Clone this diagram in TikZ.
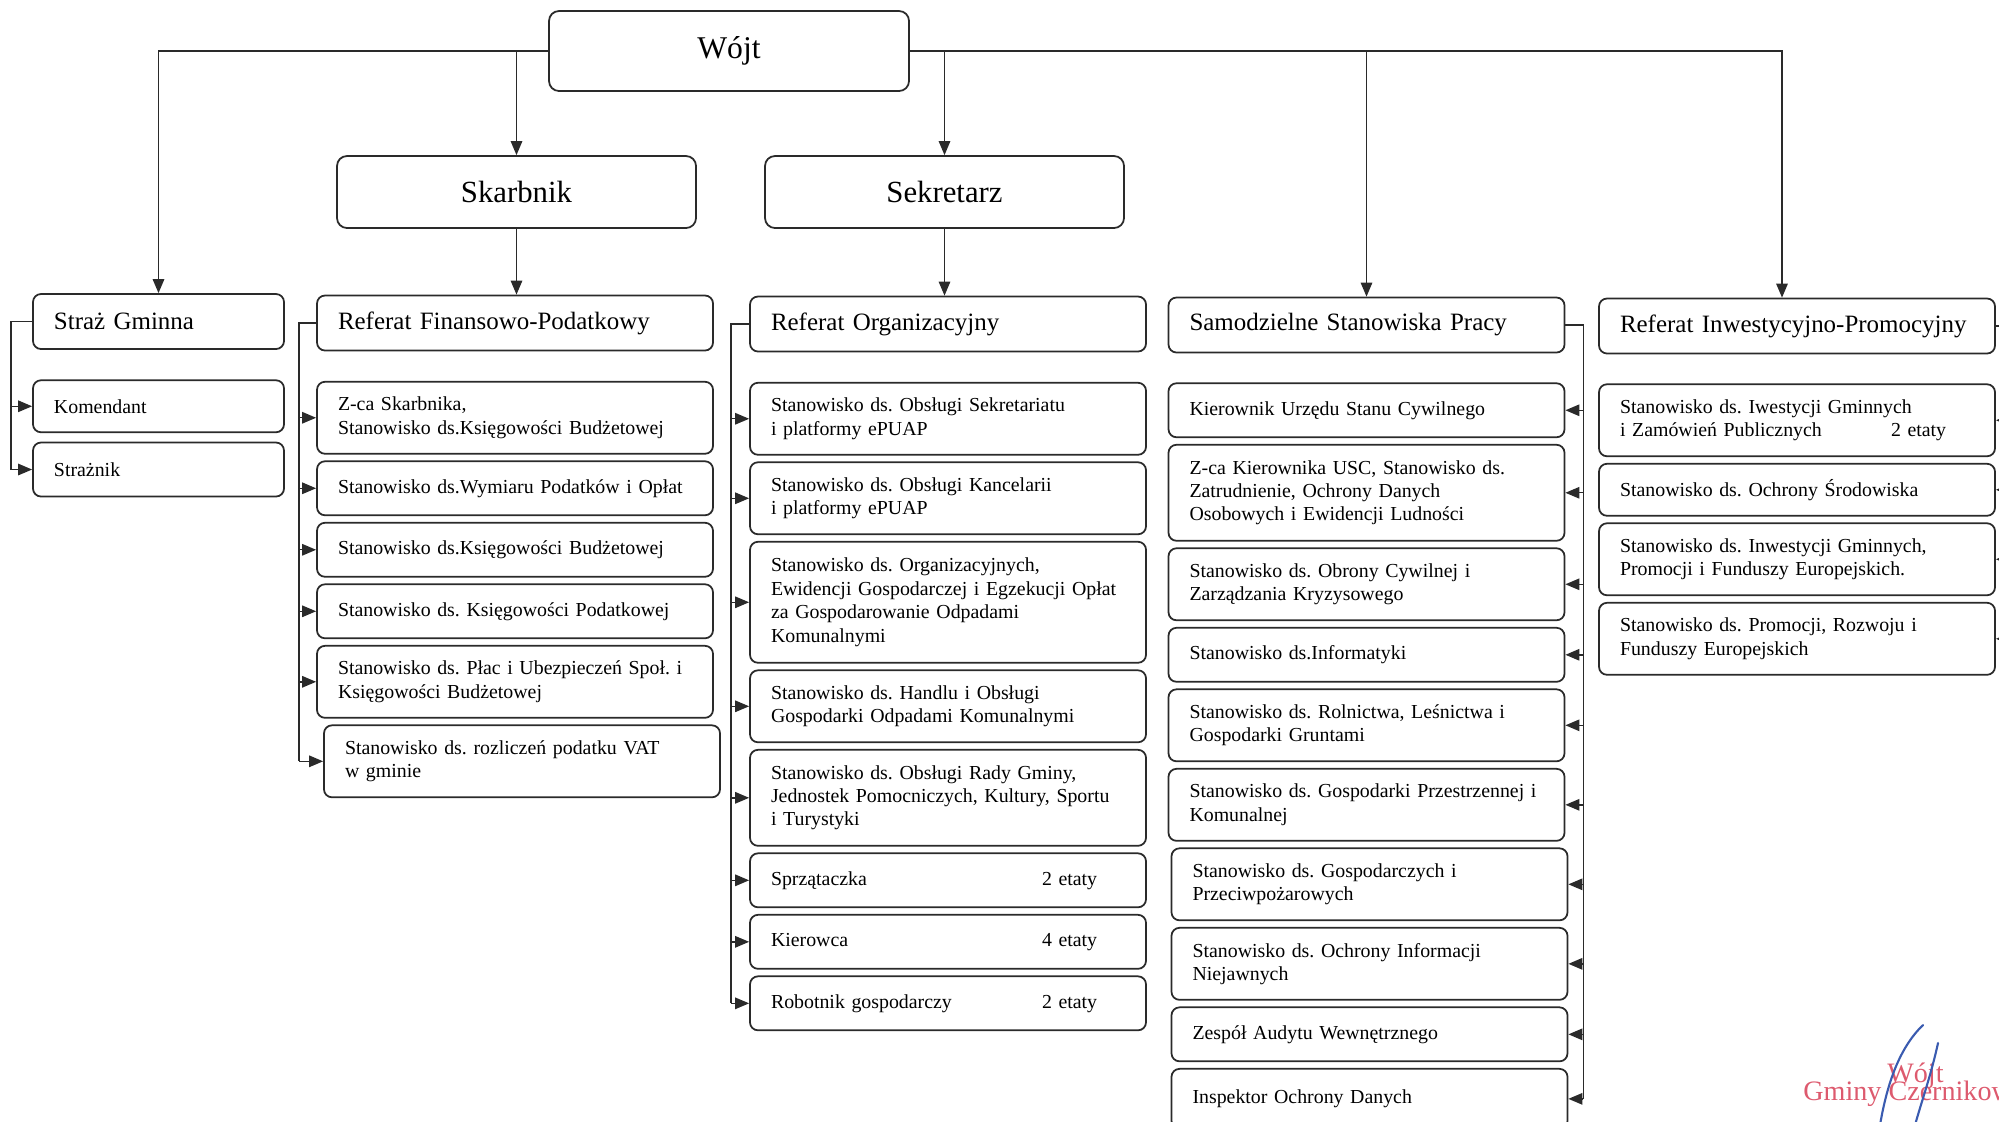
\documentclass[tikz,border=0pt]{standalone}
\usepackage{fontspec}
\setmainfont{Liberation Serif}
\usetikzlibrary{arrows.meta,positioning}
\definecolor{inkgrey}{HTML}{2A2A2A}
\definecolor{stampred}{HTML}{DD5A6E}
\definecolor{penblue}{HTML}{3A5BB0}
\frenchspacing
\newcommand{\etaty}[2]{\makebox[54.2mm][l]{#1}#2}
\tikzset{
  chief/.style  = {draw=inkgrey, line width=1pt, rounded corners=2mm, minimum width=71.8mm,
                   minimum height=14.4mm, font=\fontsize{17.5}{20}\selectfont},
  dept/.style   = {draw=inkgrey, line width=1pt, rounded corners=1.6mm, minimum height=11mm,
                   text width=#1, inner xsep=4.2mm, align=left, font=\fontsize{14.2}{17}\selectfont},
  dept/.default = 70.8mm,
  post/.style   = {draw=inkgrey, line width=1pt, rounded corners=1.6mm, minimum height=10.8mm,
                   text width=#1, inner xsep=4.2mm, inner ysep=1pt, align=left,
                   font=\fontsize{11.3}{13.3}\selectfont},
  post/.default = 70.8mm,
  two/.style    = {minimum height=14.4mm},
  three/.style  = {minimum height=19.2mm},
  four/.style   = {minimum height=24.2mm},
  sig/.style    = {-{Triangle[length=2.8mm,width=2.3mm]}, draw=inkgrey, line width=0.8pt},
  wire/.style   = {draw=inkgrey, line width=0.8pt},
  stamp/.style  = {text=stampred, font=\fontsize{16}{16}\selectfont, inner sep=0pt, anchor=base west},
  pen/.style    = {draw=penblue, line width=1.2pt, line cap=round},
  node distance = 1.15mm,
}

\begin{document}
\begin{tikzpicture}[x=0.2mm, y=-0.2mm]
  \useasboundingbox (0,0) rectangle (1999,1121);
  \clip (0,0) rectangle (1999,1121);

  \node[chief, minimum width=72mm, minimum height=16mm, font=\fontsize{18}{20}\selectfont] (wojt) at (729,51) {Wójt};
  \node[chief] (skarb) at (516.5,192) {Skarbnik};
  \node[chief] (sekr) at (944.5,192) {Sekretarz};

  \node[dept=41.8mm] (straz) at (158.5,321.5) {Straż Gminna};
  \node[dept] (fin) at (515,323) {Referat Finansowo-Podatkowy};
  \node[dept] (org) at (948,324) {Referat Organizacyjny};
  \node[dept] (sam) at (1366.5,325) {Samodzielne Stanowiska Pracy};
  \node[dept] (inw) at (1797,326) {Referat Inwestycyjno-Promocyjny};

  \node[post=41.8mm, minimum height=10.4mm, below=5.9mm of straz] (kom) {Komendant};
  \node[post=41.8mm, below=1.7mm of kom] (strn) {Strażnik};

  \node[post, two, below=5.9mm of fin] (fin1) {Z-ca Skarbnika,\\Stanowisko ds.Księgowości Budżetowej};
  \node[post, below=of fin1] (fin2) {Stanowisko ds.Wymiaru Podatków i Opłat};
  \node[post, below=of fin2] (fin3) {Stanowisko ds.Księgowości Budżetowej};
  \node[post, below=of fin3] (fin4) {Stanowisko ds. Księgowości Podatkowej};
  \node[post, two, below=of fin4] (fin5) {Stanowisko ds. Płac i Ubezpieczeń Społ. i\\Księgowości Budżetowej};
  \node[post, two, below=of fin5, xshift=1.4mm] (fin6) {Stanowisko ds. rozliczeń podatku VAT\\w gminie};

  \node[post, two, below=5.9mm of org] (org1) {Stanowisko ds. Obsługi Sekretariatu\\i platformy ePUAP};
  \node[post, two, below=of org1] (org2) {Stanowisko ds. Obsługi Kancelarii\\i platformy ePUAP};
  \node[post, four, below=of org2] (org3) {Stanowisko ds. Organizacyjnych,\\Ewidencji Gospodarczej i Egzekucji Opłat\\za Gospodarowanie Odpadami\\Komunalnymi};
  \node[post, two, below=of org3] (org4) {Stanowisko ds. Handlu i Obsługi\\Gospodarki Odpadami Komunalnymi};
  \node[post, three, below=of org4] (org5) {Stanowisko ds. Obsługi Rady Gminy,\\Jednostek Pomocniczych, Kultury, Sportu\\i Turystyki};
  \node[post, below=of org5] (org6) {\etaty{Sprzątaczka}{2 etaty}};
  \node[post, below=of org6] (org7) {\etaty{Kierowca}{4 etaty}};
  \node[post, below=of org7] (org8) {\etaty{Robotnik gospodarczy}{2 etaty}};

  \node[post, below=5.8mm of sam] (sam1) {Kierownik Urzędu Stanu Cywilnego};
  \node[post, three, below=of sam1] (sam2) {Z-ca Kierownika USC, Stanowisko ds.\\Zatrudnienie, Ochrony Danych\\Osobowych i Ewidencji Ludności};
  \node[post, two, below=of sam2] (sam3) {Stanowisko ds. Obrony Cywilnej i\\Zarządzania Kryzysowego};
  \node[post, below=of sam3] (sam4) {Stanowisko ds.Informatyki};
  \node[post, two, below=of sam4] (sam5) {Stanowisko ds. Rolnictwa, Leśnictwa i\\Gospodarki Gruntami};
  \node[post, two, below=of sam5] (sam6) {Stanowisko ds. Gospodarki Przestrzennej i\\Komunalnej};
  \node[post, two, below=of sam6, xshift=0.6mm] (sam7) {Stanowisko ds. Gospodarczych i\\Przeciwpożarowych};
  \node[post, two, below=of sam7] (sam8) {Stanowisko ds. Ochrony Informacji\\Niejawnych};
  \node[post, below=of sam8] (sam9) {Zespół Audytu Wewnętrznego};
  \node[post, minimum height=12mm, below=of sam9] (sam10) {Inspektor Ochrony Danych};

  \node[post, two, below=5.8mm of inw] (inw1) {Stanowisko ds. Iwestycji Gminnych\\\etaty{i Zamówień Publicznych}{2 etaty}};
  \node[post, minimum height=10.4mm, below=of inw1] (inw2) {Stanowisko ds. Ochrony Środowiska};
  \node[post, two, below=of inw2] (inw3) {Stanowisko ds. Inwestycji Gminnych,\\Promocji i Funduszy Europejskich.};
  \node[post, two, below=of inw3] (inw4) {Stanowisko ds. Promocji, Rozwoju i\\Funduszy Europejskich};

  \draw[sig] (wojt.west) -| (straz.north);
  \draw[sig] (skarb.north |- wojt.west) -- (skarb.north);
  \draw[sig] (wojt.east) -| ([xshift=-3mm]inw.north);
  \draw[sig] (sekr.north |- wojt.east) -- (sekr.north);
  \draw[sig] (sam.north |- wojt.east) -- (sam.north);
  \draw[sig] (skarb.south) -- (skarb.south |- fin.north);
  \draw[sig] (sekr.south) -- (sekr.south |- org.north);

  \coordinate[left=4.2mm of straz.west] (strazbus);
  \draw[wire] (straz.west) -- (strazbus) -- (strazbus |- strn.west);
  \foreach \n in {kom,strn} \draw[sig] (strazbus |- \n.west) -- (\n.west);

  \coordinate[left=3.4mm of fin.west] (finbus);
  \draw[wire] (fin.west) -- (finbus) -- (finbus |- fin6.west);
  \foreach \i in {1,...,6} \draw[sig] (finbus |- fin\i.west) -- (fin\i.west);

  \coordinate[left=3.6mm of org.west] (orgbus);
  \draw[wire] (org.west) -- (orgbus) -- (orgbus |- org8.west);
  \foreach \i in {1,...,8} \draw[sig] (orgbus |- org\i.west) -- (org\i.west);

  \coordinate[right=3.6mm of sam.east] (sambus);
  \draw[wire] (sam.east) -- (sambus) -- (sambus |- sam10.east);
  \foreach \i in {1,...,10} \draw[sig] (sambus |- sam\i.east) -- (sam\i.east);

  \coordinate[right=3mm of inw.east] (inwbus);
  \draw[wire] (inw.east) -- (inwbus) -- (inwbus |- inw4.east);
  \foreach \i in {1,...,4} \draw[sig] (inwbus |- inw\i.east) -- (inw\i.east);

  \node[stamp] (stampa) at (1887,1082) {Wójt};
  \node[stamp] (stampb) at (1803,1100) {Gminy Czernikowo};
  \draw[pen] (1923,1025) .. controls (1897,1050) and (1886,1090) .. (1880,1125);
  \draw[pen] (1938,1043) .. controls (1931,1075) and (1922,1100) .. (1915,1125);
\end{tikzpicture}
\end{document}
